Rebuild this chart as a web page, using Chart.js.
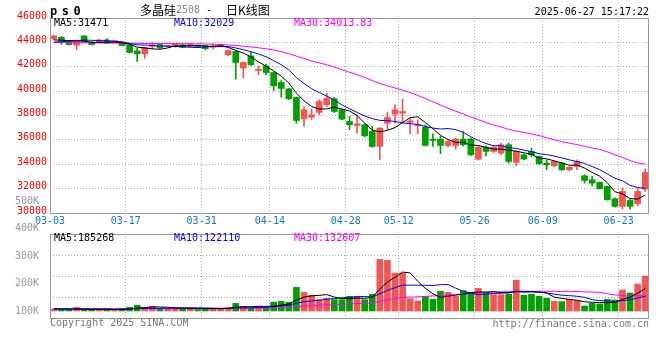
<!DOCTYPE html>
<html lang="zh">
<head>
<meta charset="UTF-8">
<title>多晶硅2508 - 日K线图</title>
<script src="https://cdn.jsdelivr.net/npm/chart.js"></script>
<style>
  body { margin: 0; background: #fff; overflow: hidden; }
  #wrap { position: relative; width: 660px; height: 360px; font-family: "DejaVu Sans Mono", monospace; font-size: 10px; }
  #wrap canvas { position: absolute; left: 0; top: 0; }
  .t { position: absolute; line-height: 12px; white-space: pre; }
  .cn { font-family: "Noto Sans CJK SC", sans-serif; font-size: 12px; line-height: 14px; }
</style>
</head>
<body>
<div id="wrap">
  <canvas id="priceChart" width="660" height="360"></canvas>
  <canvas id="volumeChart" width="660" height="360"></canvas>

  <div class="t" style="left:50px;top:5px;font-weight:bold;font-size:12px;letter-spacing:4.5px">ps0</div>
  <div class="t cn" style="left:140px;top:3px">多晶硅</div>
  <div class="t" style="left:176px;top:4px;color:#888">2508</div>
  <div class="t" style="left:206px;top:4px">-</div>
  <div class="t cn" style="left:226px;top:3px">日K线图</div>
  <div class="t" style="right:11px;top:6px">2025-06-27 15:17:22</div>

  <div class="t" style="left:54px;top:17px">MA5:31471</div>
  <div class="t" style="left:174px;top:17px;color:#0000ff">MA10:32029</div>
  <div class="t" style="left:294px;top:17px;color:#ff00ff">MA30:34013.83</div>

  <div class="t" style="left:54px;top:232px">MA5:185268</div>
  <div class="t" style="left:174px;top:232px;color:#0000ff">MA10:122110</div>
  <div class="t" style="left:294px;top:232px;color:#ff00ff">MA30:132607</div>

  <div class="t" style="left:50px;top:317px;color:#777">Copyright 2025 SINA.COM</div>
  <div class="t" style="right:11px;top:318px;color:#777">http://finance.sina.com.cn</div>
</div>

<script>
// trading days shown (03-04 .. 06-27)
const days = [
  '03-04','03-05','03-06','03-07','03-10','03-11','03-12','03-13','03-14','03-17',
  '03-18','03-19','03-20','03-21','03-24','03-25','03-26','03-27','03-28','03-31',
  '04-01','04-02','04-03','04-07','04-08','04-09','04-10','04-11','04-14','04-15',
  '04-16','04-17','04-18','04-21','04-22','04-23','04-24','04-25','04-28','04-29',
  '04-30','05-06','05-07','05-08','05-09','05-12','05-13','05-14','05-15','05-16',
  '05-19','05-20','05-21','05-22','05-23','05-26','05-27','05-28','05-29','05-30',
  '06-03','06-04','06-05','06-06','06-09','06-10','06-11','06-12','06-13','06-16',
  '06-17','06-18','06-19','06-20','06-23','06-24','06-25','06-26','06-27'
];
const tickDays = ['03-03','03-17','03-31','04-14','04-28','05-12','05-26','06-09','06-23'];
const priceTicks = [30000, 32000, 34000, 36000, 38000, 40000, 42000, 44000, 46000];
const volTicksK = [100, 200, 300, 400, 500];

const opens = [
  44290, 44420, 44070, 43770, 44530, 44040, 44010, 44200, 43990, 43990,
  43800, 43300, 43060, 43660, 43820, 43660, 43660, 43800, 43660, 43770,
  43740, 43600, 43660, 42980, 43250, 41900, 42890, 41690, 42070, 41530,
  40710, 40190, 39480, 37730, 37860, 38250, 38880, 39370, 38470, 37510,
  37180, 37240, 36690, 35460, 37370, 38110, 38190, 37430, 37150, 37040,
  36060, 36060, 35540, 35540, 36060, 36060, 34420, 35400, 35050, 34910,
  35600, 34150, 34770, 35050, 34640, 34090, 33870, 34090, 33550, 33820,
  33050, 32730, 32510, 32180, 31170, 30540, 31030, 30760, 31960
];
const highs = [
  44600, 44480, 44100, 44210, 44560, 44070, 44260, 44310, 44200, 44020,
  43850, 43520, 43620, 44010, 43870, 43790, 43930, 43840, 43900, 43800,
  43780, 43880, 43870, 43380, 43300, 42420, 43250, 42070, 42210, 41560,
  40870, 40240, 39520, 38740, 38550, 39290, 39830, 39500, 38520, 37920,
  38060, 37300, 37100, 37000, 38250, 38880, 39340, 37780, 37650, 37240,
  36500, 36280, 35950, 36140, 36690, 36150, 35500, 35510, 35500, 35730,
  35730, 35100, 34850, 35320, 34690, 34370, 34280, 34140, 33800, 34370,
  33140, 33000, 32560, 32230, 31250, 32040, 31100, 32040, 33600
];
const lows = [
  44230, 43850, 43780, 43390, 43960, 43780, 43960, 43900, 43950, 43700,
  43120, 42430, 42680, 43470, 43500, 43610, 43610, 43560, 43610, 43560,
  43390, 43440, 43610, 42920, 40980, 41080, 42100, 41340, 41340, 40050,
  39500, 39290, 37370, 37100, 37650, 38060, 38740, 38250, 37650, 36830,
  36550, 36250, 35400, 34370, 36830, 37370, 37370, 36500, 36500, 35500,
  35460, 34860, 35450, 35240, 35500, 34700, 34350, 34690, 34950, 34770,
  34090, 33870, 34350, 34640, 34000, 33550, 33800, 33490, 33440, 33550,
  32450, 32230, 31960, 31050, 30480, 30320, 30320, 30590, 31770
];
const closes = [
  44530, 44120, 43820, 44120, 44010, 43820, 44200, 43930, 44150, 43740,
  43170, 43060, 43580, 43800, 43550, 43740, 43880, 43600, 43850, 43600,
  43490, 43710, 43820, 43330, 42350, 42350, 42160, 41800, 41530, 40430,
  40220, 39370, 37590, 38470, 38060, 39150, 39420, 38330, 37700, 37240,
  37320, 36330, 35460, 36960, 37840, 38470, 38330, 37560, 37240, 35540,
  35950, 35540, 35870, 36060, 35600, 34770, 35400, 35050, 35400, 35600,
  34230, 35050, 34420, 34770, 34040, 33950, 34230, 33550, 33760, 34230,
  32670, 32450, 31990, 31090, 30540, 31770, 30540, 31770, 33330
];
const ma5 = [
  44200, 44180, 44150, 44120, 44120, 43980, 44000, 44020, 44030, 43970,
  43840, 43610, 43540, 43470, 43430, 43540, 43710, 43710, 43720, 43740,
  43690, 43650, 43700, 43590, 43340, 43120, 42810, 42400, 42040, 41660,
  41230, 40670, 39830, 39210, 38740, 38530, 38540, 38690, 38530, 38370,
  38000, 37380, 36810, 36660, 36780, 37010, 37410, 37830, 37890, 37430,
  36920, 36370, 36030, 35790, 35800, 35570, 35540, 35380, 35240, 35240,
  35140, 35070, 34940, 34810, 34500, 34450, 34280, 34110, 33910, 33940,
  33690, 33330, 33020, 32490, 31750, 31570, 31180, 31140, 31471
];
const ma10 = [
  44020, 44060, 44100, 44150, 44180, 44170, 44150, 44120, 44080, 44050,
  43910, 43800, 43780, 43750, 43700, 43690, 43660, 43630, 43600, 43580,
  43620, 43680, 43710, 43660, 43540, 43400, 43230, 43050, 42820, 42500,
  42170, 41740, 41110, 40630, 40200, 39880, 39600, 39260, 38870, 38550,
  38260, 37960, 37750, 37600, 37580, 37510, 37400, 37320, 37270, 37100,
  36970, 36890, 36930, 36840, 36620, 36250, 35950, 35700, 35520, 35520,
  35350, 35300, 35160, 35030, 34870, 34790, 34670, 34520, 34360, 34220,
  34070, 33810, 33560, 33200, 32850, 32640, 32270, 32090, 32029
];
const ma30 = [
  43990, 43990, 43980, 43980, 43970, 43960, 43960, 43950, 43940, 43940,
  43930, 43920, 43910, 43910, 43900, 43900, 43890, 43890, 43880, 43880,
  43870, 43850, 43830, 43790, 43740, 43690, 43630, 43560, 43470, 43380,
  43230, 43070, 42870, 42680, 42480, 42320, 42160, 41980, 41760, 41550,
  41350, 41130, 40860, 40630, 40440, 40260, 40080, 39880, 39650, 39390,
  39130, 38860, 38600, 38350, 38130, 37880, 37650, 37430, 37220, 37060,
  36860, 36720, 36610, 36490, 36350, 36180, 36010, 35850, 35720, 35620,
  35460, 35330, 35220, 35020, 34780, 34560, 34300, 34100, 34013.83
];
// volume in thousands
const volK = [
  16, 11, 11, 30, 11, 11, 11, 11, 11, 22,
  30, 47, 30, 39, 19, 22, 22, 19, 19, 11,
  22, 22, 22, 30, 63, 39, 22, 39, 27, 74,
  80, 72, 196, 154, 130, 94, 105, 94, 94, 121,
  121, 94, 138, 427, 419, 314, 314, 102, 83, 121,
  96, 163, 154, 121, 168, 154, 187, 154, 135, 135,
  138, 254, 130, 138, 121, 105, 80, 77, 96, 85,
  41, 63, 58, 96, 91, 174, 149, 223, 289
];
const volMa5K = [
  18, 17, 16, 16, 16, 15, 15, 15, 11, 13,
  17, 24, 28, 34, 33, 31, 26, 24, 20, 19,
  19, 19, 19, 21, 32, 35, 35, 39, 38, 40,
  48, 58, 90, 115, 126, 129, 136, 115, 103, 102,
  107, 105, 114, 180, 240, 278, 322, 315, 246, 187,
  143, 113, 123, 131, 140, 152, 157, 157, 160, 153,
  150, 163, 158, 159, 156, 150, 115, 104, 96, 89,
  76, 72, 69, 69, 70, 96, 114, 147, 185.3
];
const volMa10K = [
  16, 16, 16, 16, 15, 15, 15, 15, 15, 15,
  16, 20, 21, 22, 23, 24, 25, 26, 27, 26,
  25, 23, 22, 21, 25, 27, 27, 29, 30, 36,
  42, 47, 64, 77, 83, 89, 97, 103, 109, 114,
  118, 120, 115, 142, 171, 193, 214, 214, 213, 213,
  211, 218, 219, 189, 164, 148, 135, 140, 145, 147,
  151, 160, 158, 159, 155, 150, 139, 131, 127, 122,
  113, 94, 86, 82, 79, 86, 93, 108, 122.1
];
const volMa30K = [
  19, 19, 19, 19, 19, 19, 19, 19, 19, 19,
  20, 20, 20, 20, 20, 20, 20, 20, 20, 20,
  21, 21, 22, 22, 23, 23, 24, 24, 25, 25,
  28, 30, 36, 40, 44, 47, 50, 53, 55, 59,
  62, 63, 67, 80, 93, 103, 113, 115, 117, 121,
  124, 128, 133, 136, 139, 143, 149, 152, 156, 158,
  160, 166, 164, 163, 163, 163, 163, 162, 162, 161,
  158, 157, 154, 143, 133, 128, 122, 126, 132.6
];

const UP = '#f45454';
const DOWN = '#00a000';
const FONT = { family: 'DejaVu Sans Mono', size: 10 };

const idx = days.map((d, i) => i);
const candleColors = idx.map(i => closes[i] >= opens[i] ? UP : DOWN);
// grid line sits on the right edge of the labelled day
const xTickVals = tickDays.map(d => days.indexOf(d) + 0.5);

function pts(arr) {
  return arr.map((v, i) => ({ x: i, y: v }));
}

function maLine(arr, color, axis, order) {
  return {
    type: 'line', data: pts(arr), yAxisID: axis,
    borderColor: color, borderWidth: 1, pointRadius: 0, tension: 0, order: order
  };
}

function xAxis(showLabels) {
  return {
    type: 'linear',
    offset: false,
    min: -0.5,
    max: days.length - 0.5,
    afterBuildTicks: s => { s.ticks = xTickVals.map(v => ({ value: v })); },
    afterFit: s => { s.height = showLabels ? 14 : 0; },
    grid: { color: '#aaa', lineWidth: 1, drawTicks: false, offset: false },
    border: { display: false, dash: [1, 2] },
    ticks: {
      display: showLabels, autoSkip: false, maxRotation: 0, padding: 2,
      color: '#0a7ad8', font: FONT,
      callback: (v, i) => tickDays[i]
    }
  };
}

// grey frame round the plot area
const framePlugin = {
  id: 'frame',
  afterDatasetsDraw(chart) {
    const { ctx, chartArea: a } = chart;
    ctx.save();
    ctx.strokeStyle = '#999';
    ctx.lineWidth = 1;
    ctx.strokeRect(Math.round(a.left) + 0.5, Math.round(a.top) + 0.5,
      Math.round(a.right - a.left) - 1, Math.round(a.bottom - a.top));
    ctx.restore();
  }
};

// price (candles + MA)
new Chart(document.getElementById('priceChart'), {
  type: 'bar',
  data: {
    datasets: [
      maLine(ma5, '#000000', 'y', 0),
      maLine(ma10, '#0000ff', 'y', 1),
      maLine(ma30, '#ff00ff', 'y', 2),
      {
        type: 'bar', order: 3, grouped: false,
        data: idx.map(i => ({ x: i, y: [opens[i], closes[i]] })),
        backgroundColor: candleColors, barThickness: 6, minBarLength: 1, borderWidth: 0
      },
      {
        type: 'bar', order: 4, grouped: false,
        data: idx.map(i => ({ x: i, y: [lows[i], highs[i]] })),
        backgroundColor: candleColors, barThickness: 1, borderWidth: 0
      }
    ]
  },
  options: {
    responsive: false,
    animation: false,
    devicePixelRatio: 1,
    layout: { padding: { left: 0, right: 11, top: 18, bottom: 133 } },
    plugins: { legend: { display: false }, tooltip: { enabled: false } },
    scales: {
      x: xAxis(true),
      y: {
        type: 'linear',
        min: 30000,
        max: 46000,
        afterBuildTicks: s => { s.ticks = priceTicks.map(v => ({ value: v })); },
        afterFit: s => { s.width = 50; },
        grid: { color: '#aaa', lineWidth: 1, drawTicks: false },
        border: { display: false, dash: [1, 2] },
        ticks: { color: '#ff0000', padding: 3, labelOffset: -2, autoSkip: false, font: FONT,
          callback: v => String(v) }
      }
    }
  },
  plugins: [framePlugin]
});

// volume (bars + MA)
new Chart(document.getElementById('volumeChart'), {
  type: 'bar',
  data: {
    datasets: [
      maLine(volMa5K, '#000000', 'vol', 0),
      maLine(volMa10K, '#0000ff', 'vol', 1),
      maLine(volMa30K, '#ff00ff', 'vol', 2),
      {
        type: 'bar', order: 3, yAxisID: 'vol',
        data: idx.map(i => ({ x: i, y: volK[i] })),
        backgroundColor: candleColors, barThickness: 6, borderWidth: 0
      }
    ]
  },
  options: {
    responsive: false,
    animation: false,
    devicePixelRatio: 1,
    layout: { padding: { left: 0, right: 11, top: 234, bottom: 42 } },
    plugins: { legend: { display: false }, tooltip: { enabled: false } },
    scales: {
      x: xAxis(false),
      vol: { type: 'linear', display: false, min: -58, max: 637 },
      // label scale of the volume pane (its labels run past the top, like the original)
      volLab: {
        type: 'linear',
        position: 'left',
        min: 74.5,
        max: 380,
        afterBuildTicks: s => { s.ticks = volTicksK.map(v => ({ value: v })); },
        afterFit: s => { s.width = 50; },
        grid: { display: false },
        border: { display: false },
        ticks: { color: '#999', padding: 3, autoSkip: false, font: FONT, callback: v => v + 'K' }
      },
      volGrid: {
        type: 'linear',
        position: 'right',
        min: 0,
        max: 4,
        afterFit: s => { s.width = 0; },
        grid: { color: '#aaa', lineWidth: 1, drawTicks: false },
        border: { display: false, dash: [1, 2] },
        ticks: { display: false, stepSize: 1 }
      }
    }
  },
  plugins: [framePlugin]
});
</script>
</body>
</html>
